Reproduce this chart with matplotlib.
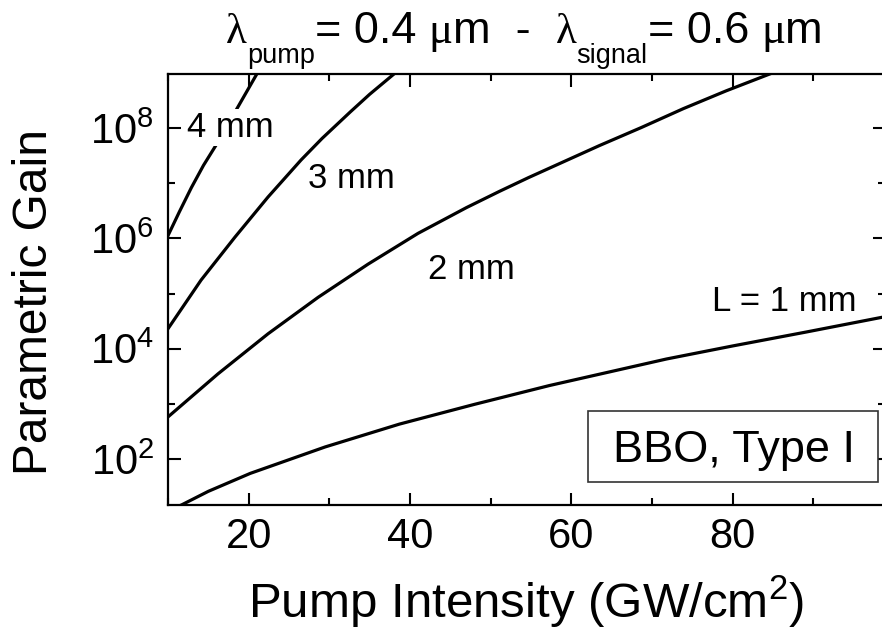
import matplotlib
matplotlib.use("Agg")
import matplotlib.pyplot as plt
from matplotlib.ticker import FixedLocator, NullFormatter, FixedFormatter
from matplotlib.patches import Rectangle

plt.rcParams["font.family"] = ["Liberation Sans", "DejaVu Sans"]
plt.rcParams["mathtext.fontset"] = "custom"
plt.rcParams["mathtext.rm"] = "Liberation Sans"
plt.rcParams["mathtext.it"] = "Liberation Sans:italic"
plt.rcParams["mathtext.default"] = "regular"

# Pump intensity (GW/cm^2) and parametric gain for each crystal length
i_4mm = [10.0, 11.4, 12.9, 14.4, 16.0, 18.9, 21.1]
g_4mm = [1.12e6, 3.0e6, 8.3e6, 2.1e7, 5.0e7, 2.75e8, 1.0e9]

i_3mm = [10.0, 14.1, 18.3, 22.4, 26.5, 29.1, 32.6, 35.0, 38.2]
g_3mm = [2.3e4, 1.75e5, 1.05e6, 5.6e6, 2.63e7, 6.45e7, 1.95e8, 4.07e8, 1.0e9]

i_2mm = [10.0, 16.2, 22.4, 28.6, 34.8, 41.0, 47.0, 51.1, 54.7, 63.5, 68.7, 73.9, 79.2, 85.0]
g_2mm = [5.8e2, 3.5e3, 1.86e4, 8.5e4, 3.4e5, 1.23e6, 3.6e6, 7.1e6, 1.26e7,
         4.8e7, 1.02e8, 2.24e8, 4.7e8, 1.0e9]

i_1mm = [10.0, 11.7, 15.0, 20.2, 29.5, 38.7, 48.0, 57.3, 63.5, 71.8, 80.0, 89.1, 98.5, 100.0]
g_1mm = [11.5, 14.8, 26.0, 55.0, 1.66e2, 4.3e2, 9.8e2, 2.15e3, 3.45e3,
         6.5e3, 1.12e4, 2.0e4, 3.7e4, 4.0e4]

curves = [(i_4mm, g_4mm), (i_3mm, g_3mm), (i_2mm, g_2mm), (i_1mm, g_1mm)]

x_major = [20, 40, 60, 80]
x_minor = [10, 30, 50, 70, 90]
y_major = [1e2, 1e4, 1e6, 1e8]
y_major_labels = ["$10^{2}$", "$10^{4}$", "$10^{6}$", "$10^{8}$"]
y_minor = [1e3, 1e5, 1e7]

W, H = 882, 634
fig = plt.figure(figsize=(W / 100, H / 100), dpi=100)
ax = fig.add_axes([168 / W, 1 - 505 / H, 717 / W, 431 / H])

for xs, ys in curves:
    ax.plot(xs, ys, color="black", lw=2.3, solid_joinstyle="round", zorder=2)

ax.set_yscale("log")
ax.set_xlim(10, 98.9)
ax.set_ylim(14.7, 9.5e8)

ax.xaxis.set_major_locator(FixedLocator(x_major))
ax.xaxis.set_minor_locator(FixedLocator(x_minor))
ax.yaxis.set_major_locator(FixedLocator(y_major))
ax.yaxis.set_major_formatter(FixedFormatter(y_major_labels))
ax.yaxis.set_minor_locator(FixedLocator(y_minor))
ax.yaxis.set_minor_formatter(NullFormatter())

ax.tick_params(which="both", direction="in", top=True, right=True, width=1.5, color="black")
ax.tick_params(which="major", length=9, labelsize=30)
ax.tick_params(which="minor", length=5)
ax.tick_params(axis="x", which="major", pad=9)
ax.tick_params(axis="y", which="major", pad=10)
for sp in ax.spines.values():
    sp.set_linewidth(1.6)

ax.set_xlabel("Pump Intensity (GW/cm$^{2}$)", fontsize=35.5, va="baseline")
ax.xaxis.set_label_coords(0.5, (505 - 618) / 431)
ax.set_ylabel("Parametric Gain", fontsize=34.5, va="center", ha="center")
ax.yaxis.set_label_coords((35 - 168) / 717, (505 - 302) / 431)

# Curve labels
lab_kw = dict(fontsize=25, ha="left", va="baseline", zorder=3)
ax.text(12.3, 10 ** 7.83, "4 mm",
        bbox=dict(facecolor="white", edgecolor="none", pad=1.5), **lab_kw)
ax.text(27.4, 10 ** 6.92, "3 mm", **lab_kw)
ax.text(42.2, 10 ** 5.27, "2 mm", **lab_kw)
ax.text(77.5, 10 ** 4.69, "L = 1 mm", **lab_kw)

# Material box
ax.add_patch(Rectangle((420 / 717, 23 / 431), 290 / 717, 71 / 431,
                       transform=ax.transAxes, facecolor="white",
                       edgecolor="#333333", lw=1.2, zorder=4))
ax.text((734 - 168) / 717, (505 - 462) / 431, "BBO, Type I", transform=ax.transAxes,
        fontsize=32.5, ha="center", va="baseline", zorder=5)

# Title assembled piece by piece (Greek letters in a serif face, subscripts lowered)
fig.canvas.draw()
renderer = fig.canvas.get_renderer()
main_base = 1 - 43 / H
sub_base = 1 - 63 / H
pieces = [
    ("λ", "Liberation Serif", 31, main_base),
    ("pump", "Liberation Sans", 19.5, sub_base),
    ("= 0.4 ", "Liberation Sans", 32.5, main_base),
    ("μ", "Liberation Serif", 32.5, main_base),
    ("m  -  ", "Liberation Sans", 32.5, main_base),
    ("λ", "Liberation Serif", 31, main_base),
    ("signal", "Liberation Sans", 19.5, sub_base),
    ("= 0.6 ", "Liberation Sans", 32.5, main_base),
    ("μ", "Liberation Serif", 32.5, main_base),
    ("m", "Liberation Sans", 32.5, main_base),
]
x_px = 226.0
for txt, fam, size, yb in pieces:
    t = fig.text(x_px / W, yb, txt, family=fam, fontsize=size, ha="left", va="baseline")
    ext = t.get_window_extent(renderer)
    x_px += ext.width

fig.savefig("out.png", dpi=100)
